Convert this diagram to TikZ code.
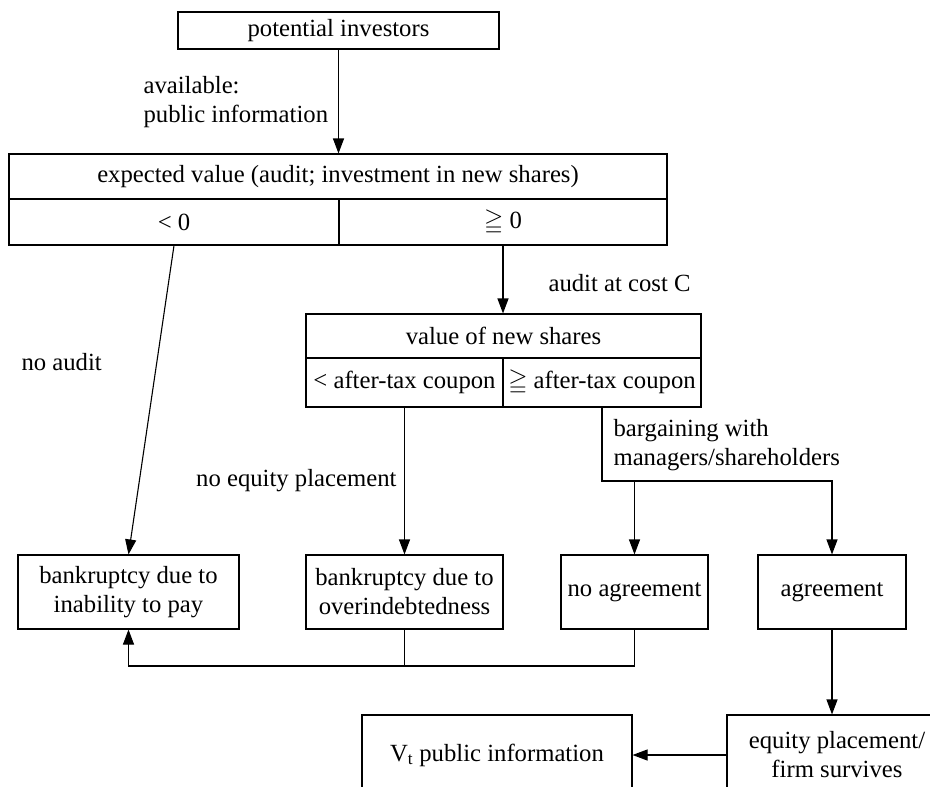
\documentclass[tikz,border=0pt]{standalone}
\usepackage{amssymb}
\usepackage{fontspec}
\setmainfont{Liberation Serif}
\usetikzlibrary{arrows.meta}

\begin{document}
\begin{tikzpicture}[x=1pt, y=-1pt, line width=1.1pt,
  font=\fontsize{24.7}{29}\selectfont,
  box/.style={draw, inner sep=0pt, align=center},
  lbl/.style={inner sep=0pt, align=left},
  >={Triangle[length=15pt,width=11pt]}]
\useasboundingbox (0,0) rectangle (930,787);
%% top: investors and expected value
\node[box, minimum width=321pt, minimum height=37pt] (inv) at (338.5,30.5) {potential investors};
\node[box, minimum width=658pt, minimum height=45pt] (expval) at (338,176.5) {expected value (audit; investment in new shares)};
\node[box, minimum width=330pt, minimum height=46pt] (neg) at (174,222) {< 0};
\node[box, minimum width=328pt, minimum height=46pt] (nonneg) at (503,222) {$\geqq$ 0};
\draw[->] (inv.south) -- (inv.south |- expval.north);
\node[lbl, anchor=west] (avail) at (143,102) {available:\\public information};
%% audit branch
\node[box, minimum width=395pt, minimum height=44pt] (shares) at (503.5,336) {value of new shares};
\node[box, minimum width=197pt, minimum height=49pt] (below) at (404.5,382.5) {< after-tax coupon};
\node[box, minimum width=198pt, minimum height=49pt] (above) at (602,382.5) {$\geqq$ after-tax coupon};
\draw[->] (nonneg.south) -- (nonneg.south |- shares.north);
\node[lbl, anchor=west] (audit) at (548,283) {audit at cost C};
\node[lbl, anchor=west] (noaudit) at (21,362) {no audit};
\node[lbl, anchor=east] (noequity) at (397,481) {no equity placement};
\node[lbl, anchor=west] (bargain) at (613,445) {bargaining with\\managers/shareholders};
%% outcomes
\node[box, minimum width=221pt, minimum height=74pt] (bk1) at (128.5,592) {bankruptcy due to\\inability to pay};
\node[box, minimum width=197pt, minimum height=74pt] (bk2) at (404.5,592) {bankruptcy due to\\overindebtedness};
\node[box, minimum width=147pt, minimum height=74pt] (noagr) at (634.5,592) {no agreement};
\node[box, minimum width=148pt, minimum height=74pt] (agr) at (832,592) {agreement};
\node[box, minimum width=270pt, minimum height=80pt] (vt) at (497,755) {V\textsubscript{t} public information};
\node[box, minimum width=220pt, minimum height=80pt] (eq) at (837,755) {equity placement/\\firm survives};
\draw[->] (neg.south) -- (bk1.north);
\draw[->] (below.south) -- (bk2.north);
\coordinate (fork) at (above.south |- 0,481);
\draw[->] (above.south) -- (fork) -| (agr.north);
\draw[->] (fork -| noagr.north) -- (noagr.north);
\coordinate (retjoin) at (bk2.south |- 0,666);
\draw (bk2.south) -- (retjoin);
\draw[->] (noagr.south) |- (retjoin) -| (bk1.south);
\draw[->] (agr.south) -- (agr.south |- eq.north);
\draw[->] (vt.east -| eq.west) -- (vt.east);
\end{tikzpicture}
\end{document}
